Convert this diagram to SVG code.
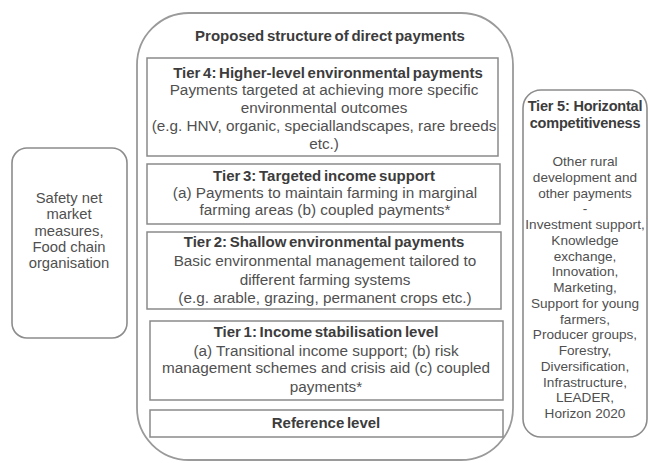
<svg xmlns="http://www.w3.org/2000/svg" width="649" height="463" viewBox="0 0 649 463">
  <style>
    .frame { fill: #ffffff; stroke: #8c8c8c; stroke-width: 1.6; }
    .outer { fill: #ffffff; stroke: #9a9a9a; stroke-width: 1.8; }
    .tier { fill: #ffffff; stroke: #8a8a8a; stroke-width: 1.5; }
    text { font-family: "Liberation Sans", Arial, sans-serif; text-anchor: middle; }
    .head { font-size: 15px; font-weight: bold; fill: #3c3c3c; word-spacing: -1.5px; }
    .body { font-size: 15.3px; fill: #505050; }
    .side { font-size: 14.8px; fill: #505050; }
    .small { font-size: 13.6px; fill: #505050; }
    .shead { font-size: 14.5px; font-weight: bold; fill: #3c3c3c; letter-spacing: -0.2px; }
  </style>
  <rect width="649" height="463" fill="#ffffff"/>

  <!-- Central pillar: proposed structure of direct payments -->
  <g id="direct-payments">
    <rect class="outer" x="137" y="13" width="376" height="447" rx="52" ry="52"/>
    <text class="head" x="330" y="41">Proposed structure of direct payments</text>
  </g>

  <g id="tier4">
    <rect class="tier" x="147" y="58" width="351" height="98"/>
    <text class="head" x="328" y="78">Tier 4: Higher-level environmental payments</text>
    <text class="body" x="324" y="95">Payments targeted at achieving more specific</text>
    <text class="body" x="324" y="113">environmental outcomes</text>
    <text class="body" x="324" y="131">(e.g. HNV, organic, speciallandscapes, rare breeds</text>
    <text class="body" x="324" y="149">etc.)</text>
  </g>

  <g id="tier3">
    <rect class="tier" x="147" y="164" width="353" height="60"/>
    <text class="head" x="324" y="181">Tier 3: Targeted income support</text>
    <text class="body" x="325" y="198">(a) Payments to maintain  farming in marginal</text>
    <text class="body" x="325" y="215">farming areas (b) coupled payments*</text>
  </g>

  <g id="tier2">
    <rect class="tier" x="147" y="232" width="354" height="77"/>
    <text class="head" x="324" y="247">Tier 2: Shallow environmental payments</text>
    <text class="body" x="325" y="266">Basic environmental management tailored to</text>
    <text class="body" x="325" y="285">different farming systems</text>
    <text class="body" x="325" y="303">(e.g. arable, grazing, permanent crops etc.)</text>
  </g>

  <g id="tier1">
    <rect class="tier" x="150" y="321" width="353" height="79"/>
    <text class="head" x="326" y="337">Tier 1: Income stabilisation level</text>
    <text class="body" x="326" y="356">(a) Transitional income support; (b) risk</text>
    <text class="body" x="326" y="373">management schemes and crisis aid (c) coupled</text>
    <text class="body" x="326" y="392">payments*</text>
  </g>

  <g id="reference-level">
    <rect class="tier" x="150" y="410" width="353" height="27"/>
    <text class="head" x="326" y="428">Reference level</text>
  </g>

  <!-- Left column: market measures -->
  <g id="safety-net">
    <rect class="frame" x="12" y="148" width="115" height="190" rx="15" ry="15"/>
    <text class="side" x="69" y="203">Safety net</text>
    <text class="side" x="69" y="219">market</text>
    <text class="side" x="69" y="236">measures,</text>
    <text class="side" x="69" y="252">Food chain</text>
    <text class="side" x="69" y="268">organisation</text>
  </g>

  <!-- Right column: tier 5 -->
  <g id="tier5">
    <rect class="frame" x="523" y="90" width="124" height="347" rx="18" ry="18"/>
    <text class="shead" x="585" y="111">Tier 5: Horizontal</text>
    <text class="shead" x="585" y="128">competitiveness</text>
    <text class="small" x="585" y="166">Other rural</text>
    <text class="small" x="585" y="181.75">development and</text>
    <text class="small" x="585" y="197.5">other payments</text>
    <text class="small" x="585" y="213.25">-</text>
    <text class="small" x="585" y="229">Investment support,</text>
    <text class="small" x="585" y="244.75">Knowledge</text>
    <text class="small" x="585" y="260.5">exchange,</text>
    <text class="small" x="585" y="276.25">Innovation,</text>
    <text class="small" x="585" y="292">Marketing,</text>
    <text class="small" x="585" y="307.75">Support for young</text>
    <text class="small" x="585" y="323.5">farmers,</text>
    <text class="small" x="585" y="339.25">Producer groups,</text>
    <text class="small" x="585" y="355">Forestry,</text>
    <text class="small" x="585" y="370.75">Diversification,</text>
    <text class="small" x="585" y="386.5">Infrastructure,</text>
    <text class="small" x="585" y="402.25">LEADER,</text>
    <text class="small" x="585" y="418">Horizon 2020</text>
  </g>

  <!-- No connectors between the blocks -->
  <g id="connectors"/>
</svg>
